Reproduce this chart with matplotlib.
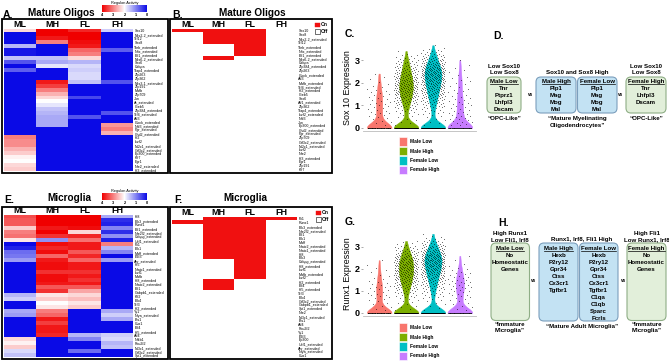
import numpy as np
import matplotlib
matplotlib.use("Agg")
import matplotlib.pyplot as plt
from matplotlib.colors import LinearSegmentedColormap, ListedColormap
from matplotlib.patches import Rectangle, FancyBboxPatch

plt.rcParams['font.family'] = ['Liberation Sans', 'DejaVu Sans']
plt.rcParams['font.weight'] = 'bold'

# ---------------- data ----------------
groups = ["ML", "MH", "FL", "FH"]
legend_names = ["Male Low", "Male High", "Female Low", "Female High"]
group_colors = ["#F8766D", "#7CAE00", "#00BFC4", "#C77CFF"]

# A. regulon activity, mature oligos (columns ML, MH, FL, FH)
A_rows = ["Sox10", "Nkx2-2_extended", "Tcf12", "Sox8", "Tfeb_extended", "Nfix_extended",
          "Elf1_extended", "Nkx6-2_extended", "Sox6", "Cebpa", "Tfap4_extended", "Zfp263",
          "Zfp362", "Nkx3-1_extended", "Zfp191", "Mafb", "Zfp709", "Jun", "Ar_extended",
          "Creb5", "Zfp384_extended", "Tcf4_extended", "Atf3", "Clock_extended",
          "Nfil3_extended", "Pgr_extended", "Chd2_extended", "Irf2", "Ikzf2",
          "Nr2c1_extended", "Gtf3c2_extended", "Ep300_extended", "Klf7", "Egr1",
          "Nfe2_extended", "Irf3_extended"]
A_vals = [[2.3, 4.0, 3.7, 1.6], [0, 4.0, 4.0, 0], [0, 3.8, 4.0, 0], [0, 3.0, 3.9, 0],
          [1.4, 0, 3.8, 0], [0.1, 0, 3.2, 0.7], [0.1, 0, 3.0, 0], [1.5, 1.5, 2.3, 0],
          [0.6, 1.3, 1.4, 0], [0, 1.8, 1.7, 0], [0.7, 0, 1.6, 0], [0, 0, 1.7, 0],
          [0, 0, 1.7, 0], [0, 3.8, 1.5, 0.6], [0, 3.5, 0, 0], [0, 3.0, 0, 0],
          [0, 2.6, 0, 0], [0, 2.3, 0.5, 0], [0, 2.0, 0, 0], [0, 1.8, 0, 0],
          [0, 1.5, 0, 0], [0, 1.4, 0, 0.6], [0, 1.3, 0.6, 0], [0, 1.3, 0, 0],
          [0, 1.3, 0, 2.8], [0, 0, 0, 3.0], [0, 0, 0, 2.6], [3.0, 0, 0, 0],
          [2.9, 0, 0, 0], [2.9, 0, 0, 0], [2.6, 0, 0, 0], [2.4, 0, 0, 0],
          [2.1, 0, 0, 0], [2.0, 0, 0, 0], [2.3, 0, 0, 0], [2.4, 0, 0, 0]]

# B. on/off, mature oligos
B_rows = ["Sox10", "Sox8", "Nkx2-2_extended", "Tcf12", "Tfeb_extended", "Nfix_extended",
          "Elf1_extended", "Nkx6-2_extended", "Cebpa", "Zfp384_extended", "Zfp263",
          "Clock_extended", "Atf3", "Mafb_extended", "Tcf4_extended", "Irf2_extended",
          "Creb5", "Sox6", "Atf1_extended", "Zfp362", "Tfap4_extended", "Ikzf2_extended",
          "Nfil3", "Jun", "Ep300_extended", "Chd2_extended", "Pgr_extended", "Zfp709",
          "Gtf3c2_extended", "Nr2c1_extended", "Ikzf2", "Nfe2", "Irf3_extended", "Egr1",
          "Zfp191", "Klf7"]
B_on = [[1, 1, 1, 0], [0, 1, 1, 0], [0, 1, 1, 0], [0, 1, 1, 0], [0, 0, 1, 0],
        [0, 0, 1, 0], [0, 0, 1, 0], [0, 1, 0, 0]] + [[0, 0, 0, 0]] * 28

# E. regulon activity, microglia
E_rows = ["Irf8", "Elk3_extended", "Runx1", "Elf1_extended", "Nfe2l2_extended",
          "Cebpg_extended", "Usf1_extended", "Fli1", "Elk1", "Maff_extended", "E2f3",
          "Ahr_extended", "Irf5", "Nfatc1_extended", "Ikzf1", "Mafb", "Irf8_extended",
          "Nfatc2_extended", "Elf1", "Gabpb1_extended", "Klf2", "Elk4", "Tcf3",
          "Irf2_extended", "Yy1", "Nfya_extended", "Ets1", "Cux1", "Elf4",
          "Irf5_extended", "Atf4", "Nfkb1", "Pou2f2", "Nr3c1_extended",
          "Gtf3c2_extended", "Spi1_extended"]
E_vals = [[3.4, 4.0, 4.0, 1.3], [3.3, 4.0, 4.0, 0.3], [3.3, 4.0, 4.0, 0.2], [2.4, 3.8, 3.9, 1.0],
          [3.0, 4.0, 2.3, 0.3], [3.1, 3.6, 3.7, 1.1], [2.2, 1.1, 3.1, 0.2], [0, 3.9, 3.8, 3.0],
          [0.2, 3.7, 3.8, 1.4], [0.8, 3.9, 3.3, 1.0], [0.9, 3.2, 3.7, 0], [1.2, 3.8, 3.2, 1.2],
          [0, 3.9, 3.8, 0], [0, 3.9, 3.8, 0], [0, 3.6, 3.6, 0], [0, 3.9, 3.8, 0],
          [0, 3.9, 3.6, 0], [0, 3.8, 3.8, 0], [0, 3.3, 3.3, 0], [0, 3.6, 2.7, 0],
          [1.4, 2.2, 2.3, 0], [1.6, 2.4, 2.5, 0], [0, 2.0, 2.2, 0], [0, 2.2, 2.4, 0],
          [1.3, 3.0, 0, 1.3], [1.2, 3.2, 0, 1.6], [0, 3.8, 0, 1.3], [0, 3.5, 0, 0],
          [0, 3.8, 0, 0], [0, 3.8, 0, 0], [0, 3.7, 1.4, 1.6], [2.3, 0, 1.0, 1.7],
          [2.1, 0, 0, 1.4], [2.4, 0, 0, 1.5], [1.7, 0, 0.8, 0], [1.5, 0, 0, 0]]

# F. on/off, microglia
F_rows = ["Fli1", "Runx1", "Elk3_extended", "Nfe2l2_extended", "Elf1", "Elk1", "Maff",
          "Nfatc2_extended", "Nfatc1_extended", "Irf8", "Elk3", "Cebpg_extended",
          "Irf8_extended", "Ikzf1", "Mafb_extended", "Ikzf2", "Irf2_extended", "Elf4",
          "Irf5_extended", "Tcf3", "Elk4", "Gtf3c2_extended", "Gabpb1_extended",
          "Spi1_extended", "Nfe2", "Nr3c1_extended", "Ets1", "Atf4", "Pou2f2", "Yy1",
          "E2f3", "Ep300", "Usf1_extended", "Ahr_extended", "Nfya_extended", "Cux1"]
F_on = ([[0, 1, 1, 1], [1, 1, 1, 0]] + [[0, 1, 1, 0]] * 9 + [[0, 0, 1, 0]] * 5
        + [[0, 1, 0, 0]] * 3 + [[0, 0, 0, 0]] * 17)

# C / G violin data: cells with zero expression, and cell counts per 0.2 bin (0.2 ... 3.6)
levels = np.round(np.arange(0.2, 3.61, 0.2), 1)
C_zeros = [52, 135, 140, 50]
C_counts = [
    [3, 4, 5, 5, 5, 5, 5, 4, 3, 2, 2, 1, 0, 0, 0, 0, 0, 0],
    [3, 3, 5, 9, 13, 19, 24, 27, 29, 28, 25, 21, 17, 13, 10, 5, 1, 0],
    [3, 3, 5, 8, 12, 16, 21, 25, 29, 32, 36, 38, 35, 28, 20, 14, 8, 2],
    [6, 6, 6, 5, 5, 5, 4, 4, 3, 3, 3, 2, 2, 1, 1, 0, 0, 0],
]
G_zeros = [52, 135, 140, 52]
G_counts = [
    [3, 3, 4, 5, 5, 5, 4, 3, 2, 2, 1, 1, 0, 0, 0, 0, 0, 0],
    [3, 3, 5, 8, 12, 17, 22, 26, 29, 30, 30, 28, 22, 15, 9, 4, 0, 0],
    [2, 3, 4, 7, 10, 14, 18, 23, 28, 32, 36, 38, 36, 28, 20, 12, 6, 1],
    [3, 3, 4, 5, 6, 7, 7, 6, 5, 3, 2, 1, 1, 0, 0, 0, 0, 0],
]

# ---------------- figure ----------------
W, H = 669, 363
fig = plt.figure(figsize=(W / 100, H / 100), dpi=100)


def rect(x0, y0, x1, y1):
    return [x0 / W, 1 - y1 / H, (x1 - x0) / W, (y1 - y0) / H]


act_cmap = LinearSegmentedColormap.from_list("act", ["#0A0AE6", "#FFFFFF", "#F00000"])
onoff_cmap = ListedColormap(["#FFFFFF", "#F01010"])


def heatmap(box, vals, rows, cmap, vmax):
    ax = fig.add_axes(rect(*box))
    im = ax.imshow(np.array(vals, dtype=float), cmap=cmap, vmin=0, vmax=vmax,
                   aspect="auto", interpolation="nearest")
    ax.set_xticks([])
    ax.yaxis.tick_right()
    ax.set_yticks(range(len(rows)))
    ax.set_yticklabels(rows, fontsize=2.6, fontweight="normal")
    ax.tick_params(axis="y", length=0, pad=1)
    for s in ax.spines.values():
        s.set_visible(False)
    for i, g in enumerate(groups):
        ax.text(i, -0.9, g, ha="center", va="baseline", fontsize=6.5, clip_on=False)
    return im


imA = heatmap((4, 29, 133, 171.5), A_vals, A_rows, act_cmap, 4)
heatmap((172, 29, 297, 171.5), B_on, B_rows, onoff_cmap, 1)
imE = heatmap((4, 215, 133, 357.5), E_vals, E_rows, act_cmap, 4)
heatmap((172, 217, 297, 357.5), F_on, F_rows, onoff_cmap, 1)

for im, (x0, y0, x1, y1) in [(imA, (102, 5, 147, 12)), (imE, (102, 193, 147, 200))]:
    cax = fig.add_axes(rect(x0, y0, x1, y1))
    cb = fig.colorbar(im, cax=cax, orientation="horizontal")
    cax.invert_xaxis()
    cb.set_ticks([4, 3, 2, 1, 0])
    cb.outline.set_visible(False)
    cax.tick_params(labelsize=2.8, length=0, pad=0.5)
    cax.set_title("Regulon Activity", fontsize=2.8, pad=1)


def violins(box, zeros, counts, ylabel):
    ax = fig.add_axes(rect(*box))
    data = []
    for z, cnt in zip(zeros, counts):
        parts = [np.zeros(z)]
        for lev, n in zip(levels, cnt):
            if n:
                parts.append(lev - 0.1 + 0.2 * (np.arange(n) + 0.5) / n)
        data.append(np.concatenate(parts))
    # fixed kernel bandwidth in expression units
    vp = ax.violinplot(data, positions=[1, 2, 3, 4], widths=0.92, showextrema=False,
                       bw_method=lambda k: 0.22 / k.dataset.std(ddof=1))
    for body, col in zip(vp["bodies"], group_colors):
        body.set_facecolor(col)
        body.set_edgecolor(col)
        body.set_linewidth(0.3)
        body.set_alpha(1)
    for i, d in enumerate(data):
        jit = ((np.arange(len(d)) + 1) * 0.6180339887) % 1 * 0.88 - 0.44
        ax.scatter(i + 1 + jit, d, s=0.22, c="black", linewidths=0, zorder=3)
    ax.set_xlim(0.4, 4.6)
    ax.set_ylim(-0.15, 3.75)
    ax.set_xticks([])
    ax.set_yticks([0, 1, 2, 3])
    ax.tick_params(axis="y", labelsize=6.5, length=1.5, width=0.5, color="#888888", pad=1)
    ax.set_ylabel(ylabel, fontsize=6.4, labelpad=2)
    for s in ["top", "right", "left"]:
        ax.spines[s].set_visible(False)
    ax.spines["bottom"].set_color("#BBBBBB")
    ax.spines["bottom"].set_linewidth(0.6)
    ax.patch.set_alpha(0)


violins((363, 43, 476, 131.4), C_zeros, C_counts, "Sox 10 Expression")
violins((363, 230.5, 476, 316.3), G_zeros, G_counts, "Runx1 Expression")

# ---------------- overlay in pixel units ----------------
ov = fig.add_axes([0, 0, 1, 1])
ov.set_xlim(0, W)
ov.set_ylim(H, 0)
ov.axis("off")

for x0, y0, x1, y1 in [(2, 19, 168, 172.5), (170, 19, 332, 172.5),
                       (2, 207, 168, 359), (170, 207, 332, 359)]:
    ov.add_patch(Rectangle((x0, y0), x1 - x0, y1 - y0, fill=False, lw=1.3, ec="black"))

for x, y, s in [(3, 17.5, "A."), (172, 18, "B."), (345, 37, "C."), (493, 39, "D."),
                (4, 203, "E."), (174, 203, "F."), (345, 225, "G."), (498, 226, "H.")]:
    ov.text(x, y, s, fontsize=7.5, va="baseline", ha="left")
for x, y, s in [(61.5, 16.5, "Mature Oligos"), (252.5, 16.5, "Mature Oligos"),
                (69.5, 201, "Microglia"), (245, 201, "Microglia")]:
    ov.text(x, y, s, fontsize=7.2, va="baseline", ha="center")

# on/off legends
for x, y in [(315, 22.7), (316, 210.5)]:
    ov.add_patch(Rectangle((x, y), 4.5, 4.5, fc="#F01010", ec="#F01010", lw=0.3))
    ov.add_patch(Rectangle((x, y + 6.5), 4.5, 4.5, fc="white", ec="black", lw=0.4))
    ov.text(x + 5.5, y + 2.3, "On", fontsize=3.6, va="center")
    ov.text(x + 5.5, y + 8.8, "Off", fontsize=3.6, va="center")

# violin legends
for y0 in [137.3, 323.3]:
    for i, (name, col) in enumerate(zip(legend_names, group_colors)):
        ov.add_patch(Rectangle((399.3, y0 + i * 9.5), 8, 8.4, fc=col, ec="white", lw=0.4))
        ov.text(409.5, y0 + i * 9.5 + 4.2, name, fontsize=3.5, va="center")

green_fc, green_ec = "#E2EFDA", "#8FAE86"
blue_fc, blue_ec = "#C3E2F3", "#7C9FBD"


def rbox(x0, y0, x1, y1, fc, ec):
    ov.add_patch(FancyBboxPatch((x0, y0), x1 - x0, y1 - y0,
                                boxstyle="round,pad=0,rounding_size=5",
                                fc=fc, ec=ec, lw=0.8))


underlined = []


def lines(x, y0, items, step=7.0, size=4.4, first_ul=False):
    for k, s in enumerate(items):
        t = ov.text(x, y0 + k * step + 2.2, s, fontsize=size, ha="center", va="baseline")
        if first_ul and k == 0:
            underlined.append((t, y0 + 2.2))


# D
rbox(487, 77, 521, 113, green_fc, green_ec)
rbox(536, 77, 576, 113, blue_fc, blue_ec)
rbox(577.5, 77, 617, 113, blue_fc, blue_ec)
rbox(626, 77, 666, 113, green_fc, green_ec)
lines(504, 65.7, ["Low Sox10", "Low Sox8"], step=6)
lines(504, 80.5, ["Male Low", "Tnr", "Ptprz1", "Lhfpl3", "Dscam"], first_ul=True)
lines(504, 117.5, ["\u201cOPC-Like\u201d"])
lines(577, 71.7, ["Sox10 and Sox8 High"])
lines(556, 81, ["Male High", "Plp1", "Mag", "Mog", "Mal"], step=6.9, first_ul=True)
lines(597, 81, ["Female Low", "Plp1", "Mag", "Mog", "Mal"], step=6.9, first_ul=True)
lines(577, 117.7, ["\u201cMature Myelinating", "Oligodendrocytes\u201d"], step=6.6)
lines(646, 65.7, ["Low Sox10", "Low Sox8"], step=6)
lines(646, 80.5, ["Female High", "Tnr", "Lhfpl3", "Dscam"], first_ul=True)
lines(646, 117.5, ["\u201cOPC-Like\u201d"])
ov.text(530.7, 94, "vs", fontsize=3.3, ha="center", va="center")
ov.text(621, 94, "vs", fontsize=3.3, ha="center", va="center")

# H
rbox(491, 243, 529.5, 320.5, green_fc, green_ec)
rbox(539, 243, 578, 321, blue_fc, blue_ec)
rbox(579.5, 243, 618, 321, blue_fc, blue_ec)
rbox(627, 243, 666, 320.5, green_fc, green_ec)
lines(510, 232.7, ["High Runx1", "Low Fli1, Irf8"], step=6.6)
lines(510, 247.7, ["Male Low", "No", "Homeostatic", "Genes"], first_ul=True)
lines(510, 323.3, ["\u201cImmature", "Microglia\u201d"], step=6.7)
lines(582, 239.3, ["Runx1, Irf8, Fli1 High"])
lines(558.5, 247.7, ["Male High", "Hexb", "P2ry12", "Gpr34", "Ctss", "Cx3cr1", "Tgfbr1"],
      first_ul=True)
lines(598.5, 247.7, ["Female Low", "Hexb", "P2ry12", "Gpr34", "Ctss", "Cx3cr1", "Tgfbr1",
                     "C1qa", "C1qb", "Sparc", "Fcrls"], first_ul=True)
lines(582, 326, ["\u201cMature Adult Microglia\u201d"])
lines(646.5, 232.7, ["High Fli1", "Low Runx1, Irf8"], step=6.6)
lines(646.5, 247.7, ["Female High", "No", "Homeostatic", "Genes"], first_ul=True)
lines(646.5, 323.3, ["\u201cImmature", "Microglia\u201d"], step=6.7)
ov.text(534, 280, "vs", fontsize=3.3, ha="center", va="center")
ov.text(623.3, 280, "vs", fontsize=3.3, ha="center", va="center")

fig.canvas.draw()
renderer = fig.canvas.get_renderer()
inv = ov.transData.inverted()
for t, yb in underlined:
    bb = t.get_window_extent(renderer)
    xa = inv.transform((bb.x0, bb.y0))[0]
    xb = inv.transform((bb.x1, bb.y0))[0]
    ov.plot([xa, xb], [yb + 0.9, yb + 0.9], color="black", lw=0.5)

fig.savefig("out.png", dpi=100)
